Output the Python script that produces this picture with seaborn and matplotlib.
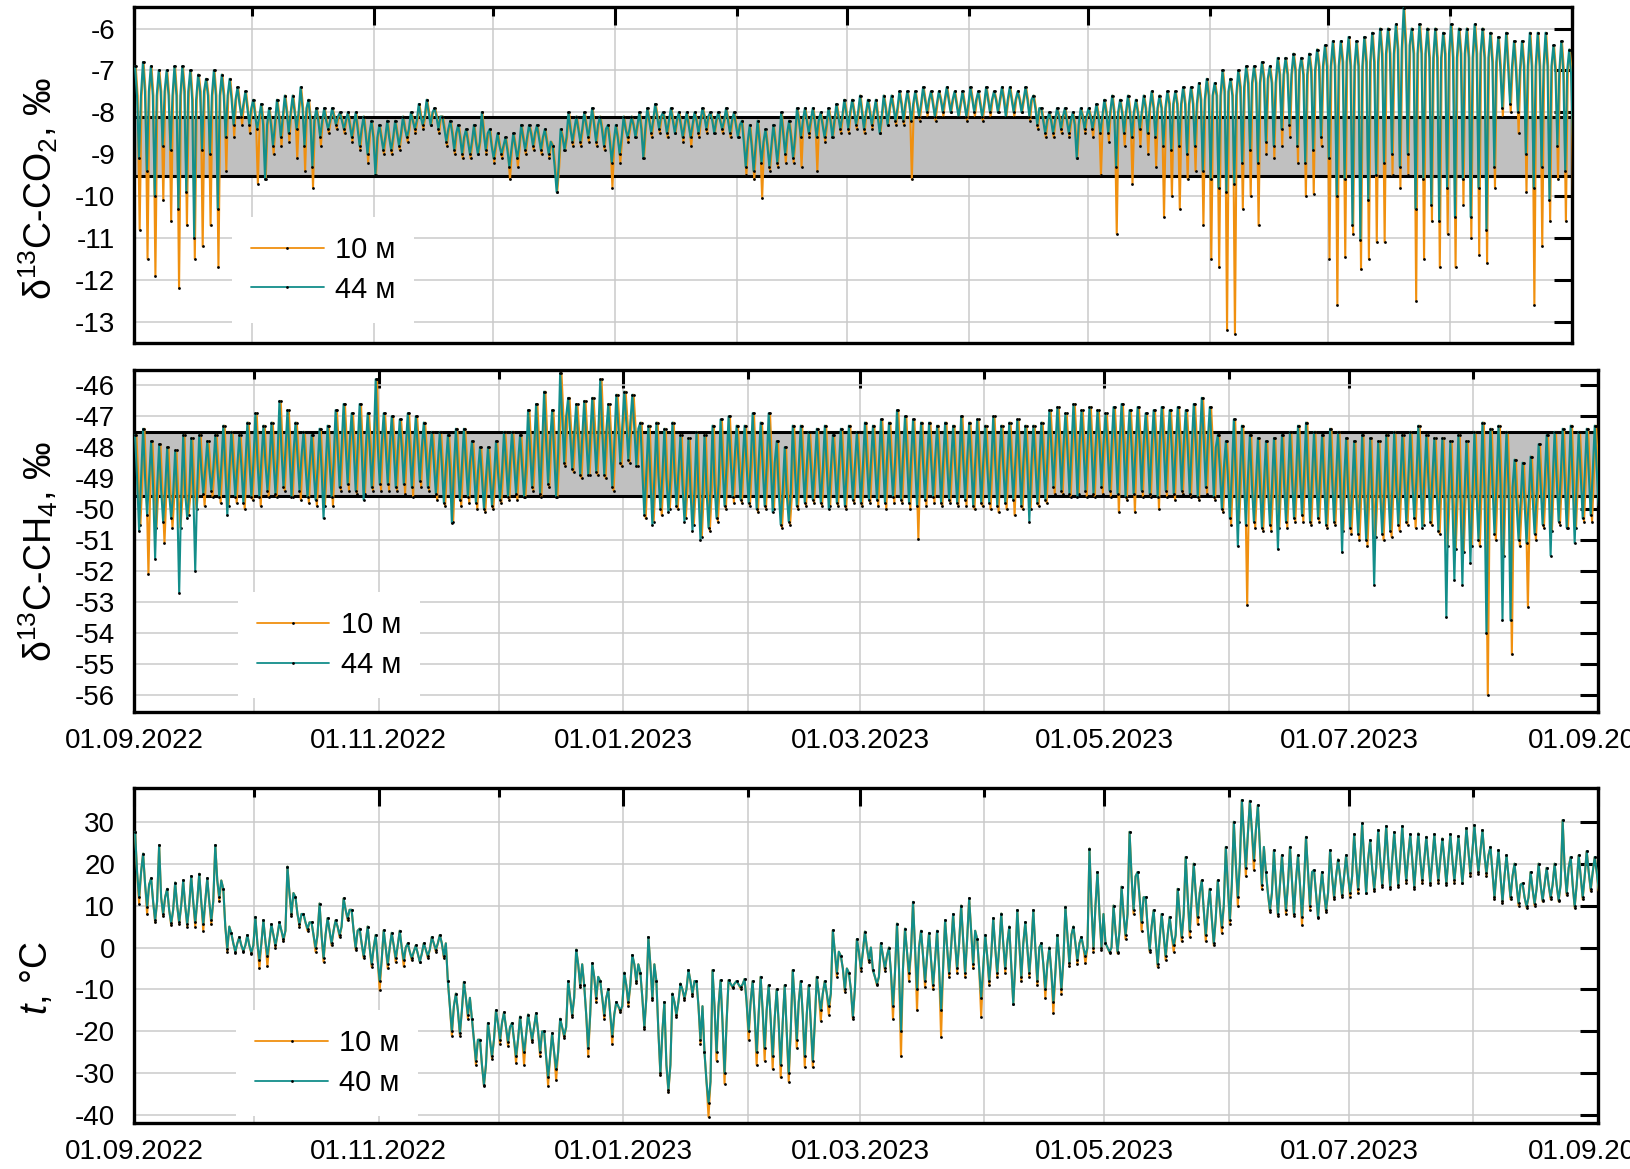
import numpy as np
import pandas as pd
import matplotlib
matplotlib.use("Agg")
import matplotlib.pyplot as plt
import matplotlib.dates as mdates
from matplotlib.ticker import MultipleLocator
import seaborn as sns

# ---------------------------------------------------------------------------
# Data: two-day blocks starting 01.09.2022; for each block the upper
# excursion, the typical (core) level and the lower excursion of the hourly
# record (‰ for the isotope ratios, °C for temperature).
# ---------------------------------------------------------------------------
START = "2022-09-01"
END = "2023-09-01"
BLOCK_DAYS = 2

# δ13C-CO2: 44 m upper / core / lower, 10 m lower
co2_44_hi = [
    -6.9, -6.8, -6.9, -7.0, -7.0, -6.9, -6.9, -7.0, -7.1, -7.2,
    -7.0, -7.1, -7.2, -7.4, -7.5, -7.7, -7.8, -7.9, -7.7, -7.6,
    -7.6, -7.4, -7.7, -7.9, -7.9, -7.9, -8.0, -8.0, -8.0, -8.1,
    -8.2, -8.3, -8.2, -8.2, -8.1, -8.0, -7.8, -7.7, -7.9, -8.1,
    -8.2, -8.3, -8.4, -8.3, -8.0, -8.4, -8.5, -8.6, -8.5, -8.3,
    -8.3, -8.3, -8.4, -8.8, -8.4, -8.0, -8.1, -8.0, -7.9, -8.1,
    -8.3, -8.3, -8.1, -8.1, -8.0, -7.9, -7.8, -8.0, -7.9, -8.0,
    -8.0, -8.0, -7.9, -8.0, -8.0, -7.9, -8.0, -8.2, -8.3, -8.2,
    -8.4, -8.3, -8.0, -8.2, -7.9, -7.9, -7.9, -8.0, -7.9, -7.8,
    -7.7, -7.7, -7.6, -7.7, -7.7, -7.6, -7.6, -7.5, -7.5, -7.5,
    -7.4, -7.5, -7.5, -7.4, -7.5, -7.5, -7.4, -7.5, -7.4, -7.5,
    -7.4, -7.4, -7.5, -7.4, -7.6, -7.9, -8.0, -7.9, -7.9, -8.0,
    -7.9, -7.9, -7.8, -7.7, -7.6, -7.7, -7.6, -7.7, -7.6, -7.5,
    -7.6, -7.5, -7.5, -7.4, -7.4, -7.3, -7.2, -7.3, -7.0, -7.2,
    -7.0, -6.9, -6.9, -6.8, -6.9, -6.7, -6.7, -6.6, -6.7, -6.6,
    -6.5, -6.4, -6.3, -6.3, -6.2, -6.3, -6.2, -6.1, -6.0, -6.0,
    -5.9, -5.5, -6.0, -5.9, -6.0, -6.0, -6.1, -5.9, -6.0, -6.0,
    -5.9, -6.0, -6.1, -6.2, -6.1, -6.3, -6.3, -6.1, -6.1, -6.1,
    -6.4, -6.3, -6.5,
]
co2_core = [
    -7.6, -7.5, -7.6, -7.5, -7.6, -7.6, -7.5, -7.7, -7.5, -7.6,
    -7.6, -7.6, -7.7, -7.8, -7.9, -8.1, -8.3, -8.3, -8.1, -8.0,
    -8.0, -7.9, -8.2, -8.2, -8.2, -8.1, -8.2, -8.3, -8.4, -8.5,
    -8.6, -8.6, -8.6, -8.5, -8.4, -8.2, -8.1, -8.0, -8.1, -8.4,
    -8.5, -8.6, -8.7, -8.7, -8.5, -8.8, -8.8, -8.9, -8.8, -8.6,
    -8.5, -8.6, -8.7, -9.3, -8.6, -8.4, -8.4, -8.3, -8.3, -8.4,
    -8.7, -8.6, -8.4, -8.3, -8.4, -8.2, -8.1, -8.2, -8.2, -8.3,
    -8.3, -8.2, -8.1, -8.2, -8.2, -8.2, -8.3, -8.7, -8.8, -8.7,
    -8.8, -8.7, -8.5, -8.6, -8.2, -8.2, -8.2, -8.3, -8.2, -8.1,
    -8.0, -8.0, -8.0, -8.0, -8.1, -7.9, -7.9, -7.8, -7.8, -7.8,
    -7.7, -7.8, -7.7, -7.7, -7.8, -7.8, -7.7, -7.8, -7.7, -7.7,
    -7.7, -7.7, -7.7, -7.7, -7.9, -8.2, -8.2, -8.1, -8.2, -8.3,
    -8.1, -8.1, -8.1, -8.0, -8.0, -8.0, -8.0, -8.0, -7.9, -7.9,
    -7.9, -7.8, -7.8, -7.8, -7.8, -7.7, -7.6, -7.6, -7.5, -7.6,
    -7.4, -7.3, -7.3, -7.2, -7.3, -7.1, -7.1, -7.0, -7.1, -7.0,
    -6.9, -6.9, -6.9, -6.8, -6.9, -6.9, -6.8, -6.8, -6.6, -6.6,
    -6.5, -6.4, -6.6, -6.6, -6.7, -6.7, -6.6, -6.7, -6.6, -6.7,
    -6.6, -6.7, -6.8, -6.9, -6.9, -7.0, -6.9, -6.9, -6.9, -6.9,
    -7.0, -7.0, -7.1,
]
co2_44_lo = [
    -9.1, -9.4, -10.0, -8.8, -8.9, -10.3, -9.9, -11.0, -8.9, -9.0,
    -10.3, -8.6, -8.3, -8.1, -8.3, -8.4, -9.6, -8.8, -8.6, -8.5,
    -8.4, -8.8, -9.3, -8.6, -8.4, -8.3, -8.4, -8.6, -8.8, -9.0,
    -9.5, -8.9, -8.9, -8.8, -8.6, -8.4, -8.3, -8.3, -8.4, -8.7,
    -8.9, -9.0, -9.0, -9.0, -8.9, -9.1, -9.0, -9.3, -9.1, -8.9,
    -8.8, -8.9, -9.0, -9.9, -8.9, -8.7, -8.7, -8.6, -8.7, -8.8,
    -9.2, -9.0, -8.6, -8.6, -9.1, -8.5, -8.4, -8.5, -8.5, -8.6,
    -8.6, -8.5, -8.4, -8.5, -8.4, -8.5, -8.6, -9.3, -9.4, -9.2,
    -9.3, -9.2, -9.0, -9.1, -8.6, -8.5, -8.6, -8.6, -8.6, -8.4,
    -8.4, -8.3, -8.4, -8.3, -8.5, -8.3, -8.2, -8.2, -8.2, -8.1,
    -8.0, -8.1, -8.0, -8.0, -8.1, -8.1, -8.0, -8.1, -8.0, -8.0,
    -8.1, -8.0, -8.0, -8.1, -8.3, -8.5, -8.5, -8.4, -8.5, -9.1,
    -8.4, -8.4, -8.5, -8.5, -9.3, -8.5, -8.6, -8.4, -8.5, -8.6,
    -8.8, -8.9, -8.8, -9.0, -8.8, -9.4, -9.6, -9.8, -9.9, -9.7,
    -9.2, -8.9, -9.2, -8.7, -8.8, -8.4, -8.3, -8.8, -9.2, -8.9,
    -8.6, -9.1, -10.0, -9.6, -10.7, -11.05, -10.1, -9.5, -9.2, -9.0,
    -9.3, -9.0, -10.3, -9.6, -10.2, -10.6, -9.8, -10.5, -9.6, -10.5,
    -9.8, -10.8, -9.3, -7.9, -7.8, -8.0, -9.0, -9.8, -9.3, -10.1,
    -8.8, -9.4, -8.8,
]
co2_10_lo = [
    -10.8, -11.5, -11.9, -10.1, -10.6, -12.2, -10.7, -11.5, -11.2, -10.7,
    -11.7, -9.4, -8.6, -8.3, -8.5, -9.7, -9.6, -9.0, -8.8, -8.7,
    -9.1, -9.4, -9.8, -8.8, -8.5, -8.4, -8.5, -8.7, -8.9, -9.2,
    -9.5, -9.0, -9.0, -8.9, -8.7, -8.5, -8.4, -8.3, -8.5, -8.8,
    -9.0, -9.1, -9.1, -9.0, -9.0, -9.2, -9.1, -9.6, -9.3, -9.0,
    -8.9, -9.0, -9.1, -9.9, -8.9, -8.8, -8.8, -8.7, -8.8, -8.9,
    -9.8, -9.2, -8.7, -8.6, -9.1, -8.6, -8.5, -8.6, -8.5, -8.7,
    -8.8, -8.6, -8.5, -8.5, -8.5, -8.6, -8.6, -9.5, -9.6, -10.05,
    -9.4, -9.3, -9.2, -9.2, -9.3, -8.6, -9.4, -8.7, -8.6, -8.5,
    -8.5, -8.4, -8.5, -8.4, -8.5, -8.3, -8.3, -8.3, -9.6, -8.2,
    -8.1, -8.2, -8.1, -8.0, -8.1, -8.2, -8.1, -8.2, -8.1, -8.0,
    -8.1, -8.1, -8.0, -8.2, -8.4, -8.6, -8.6, -8.5, -8.6, -9.1,
    -8.5, -8.6, -9.5, -8.7, -10.9, -8.8, -9.7, -8.8, -9.0, -9.3,
    -10.5, -10.0, -10.3, -9.6, -9.4, -10.7, -11.5, -11.7, -13.2, -13.3,
    -10.3, -10.0, -10.7, -9.0, -9.1, -8.8, -8.6, -9.2, -10.0, -9.95,
    -8.8, -11.5, -12.6, -11.45, -10.9, -11.75, -11.5, -11.1, -11.1, -9.5,
    -9.8, -9.5, -12.5, -11.5, -10.6, -11.7, -10.9, -11.7, -10.2, -11.0,
    -11.4, -11.6, -9.8, -8.1, -8.0, -8.5, -9.9, -12.6, -11.2, -10.6,
    -9.6, -10.6, -11.9,
]
co2_band = [-9.52, -8.12]

# δ13C-CH4: 44 m upper / core / lower, 10 m lower
ch4_44_hi = [
    -47.6, -47.4, -47.8, -47.9, -48.0, -48.1, -47.6, -47.7, -47.6, -47.8,
    -47.6, -47.3, -47.5, -47.6, -47.2, -46.9, -47.3, -47.2, -46.5, -46.8,
    -47.2, -47.5, -47.6, -47.4, -47.3, -46.8, -46.6, -46.9, -46.6, -46.9,
    -45.8, -46.9, -47.0, -47.1, -46.9, -47.0, -47.2, -47.5, -47.5, -47.6,
    -47.4, -47.4, -47.8, -48.0, -48.0, -47.8, -47.5, -47.5, -47.6, -46.8,
    -46.6, -46.2, -46.8, -45.6, -46.4, -46.6, -46.5, -46.4, -45.8, -46.6,
    -46.3, -46.2, -46.3, -47.2, -47.3, -47.2, -47.4, -47.2, -47.6, -47.7,
    -47.5, -47.6, -47.3, -47.1, -47.0, -47.3, -47.3, -46.9, -47.2, -46.9,
    -47.8, -48.0, -47.3, -47.3, -47.5, -47.4, -47.3, -47.6, -47.4, -47.3,
    -47.5, -47.2, -47.3, -47.1, -47.2, -46.8, -47.0, -47.1, -47.2, -47.2,
    -47.3, -47.2, -47.3, -47.0, -47.2, -47.1, -47.3, -47.0, -47.3, -47.2,
    -47.1, -47.3, -47.3, -47.2, -46.8, -46.7, -46.9, -46.6, -46.8, -46.7,
    -46.8, -46.9, -46.7, -46.6, -46.8, -46.7, -46.9, -46.8, -46.7, -46.8,
    -46.7, -46.8, -46.6, -46.4, -46.7, -47.6, -47.8, -47.1, -47.3, -47.6,
    -47.7, -47.8, -47.7, -47.6, -47.5, -47.3, -47.2, -47.5, -47.6, -47.4,
    -47.5, -47.7, -47.8, -47.6, -47.7, -47.8, -47.6, -47.5, -47.6, -47.5,
    -47.3, -47.6, -47.7, -47.7, -47.8, -47.6, -47.8, -47.5, -47.2, -47.4,
    -47.3, -47.5, -48.4, -48.5, -48.3, -47.9, -47.6, -47.5, -47.4, -47.3,
    -47.5, -47.4, -47.3,
]
ch4_core = [
    -49.0, -49.0, -49.3, -49.4, -49.5, -49.6, -49.5, -49.3, -48.7, -48.7,
    -48.6, -48.7, -48.6, -48.6, -48.5, -48.4, -48.5, -48.4, -48.1, -48.2,
    -48.3, -48.6, -48.7, -48.7, -48.5, -48.0, -47.9, -48.0, -48.1, -48.0,
    -47.9, -48.0, -48.1, -48.0, -48.1, -48.0, -48.2, -48.5, -48.6, -48.7,
    -48.6, -48.5, -48.8, -49.0, -49.0, -48.8, -48.5, -48.5, -48.6, -48.1,
    -48.0, -47.8, -48.2, -47.0, -47.6, -47.7, -47.7, -47.6, -47.5, -47.9,
    -47.3, -47.2, -47.4, -48.8, -49.0, -48.9, -49.0, -48.8, -49.2, -49.4,
    -49.5, -49.4, -49.2, -48.6, -48.4, -48.5, -48.6, -48.5, -48.6, -48.5,
    -49.4, -49.5, -48.6, -48.6, -48.6, -48.7, -48.7, -48.6, -48.7, -48.6,
    -48.6, -48.5, -48.5, -48.4, -48.5, -48.3, -48.4, -48.5, -48.5, -48.4,
    -48.5, -48.5, -48.6, -48.4, -48.5, -48.5, -48.6, -48.5, -48.6, -48.5,
    -48.5, -48.6, -48.5, -48.4, -48.0, -48.0, -48.1, -47.9, -48.0, -48.0,
    -47.9, -48.0, -47.9, -47.9, -48.0, -47.9, -48.0, -47.9, -47.9, -48.0,
    -47.9, -48.0, -47.9, -47.8, -48.0, -48.7, -48.9, -49.0, -49.0, -49.2,
    -49.2, -49.3, -49.2, -49.1, -49.0, -48.9, -49.0, -49.0, -49.1, -49.0,
    -49.1, -49.4, -49.5, -49.5, -49.6, -49.5, -49.4, -49.2, -49.0, -49.1,
    -49.0, -49.0, -49.2, -49.6, -49.7, -49.6, -49.5, -49.4, -49.3, -49.2,
    -49.2, -49.3, -49.8, -49.8, -49.6, -49.2, -49.1, -49.0, -49.0, -49.1,
    -48.9, -48.8, -48.7,
]
ch4_44_lo = [
    -50.7, -50.2, -51.6, -50.4, -50.3, -52.7, -50.3, -52.0, -49.5, -49.4,
    -49.6, -50.2, -49.6, -49.8, -49.6, -49.6, -49.4, -49.5, -49.3, -49.6,
    -49.4, -49.6, -49.7, -50.3, -49.6, -49.3, -49.2, -49.4, -49.7, -49.3,
    -49.2, -49.2, -49.3, -49.2, -49.3, -49.1, -49.3, -49.5, -49.8, -50.45,
    -49.7, -49.6, -49.8, -50.0, -49.9, -49.7, -49.6, -49.5, -49.6, -49.3,
    -49.5, -49.2, -49.6, -48.5, -48.7, -48.9, -48.9, -48.8, -48.9, -49.3,
    -48.5, -48.4, -48.6, -50.2, -50.5, -50.0, -50.1, -49.9, -50.4, -50.7,
    -51.0, -50.6, -50.3, -49.9, -49.6, -49.7, -49.8, -50.0, -49.9, -50.1,
    -50.5, -50.4, -49.9, -49.8, -49.7, -49.8, -50.0, -49.8, -49.9, -49.7,
    -49.8, -49.7, -49.7, -49.8, -49.6, -49.7, -49.8, -49.9, -49.7, -49.6,
    -49.8, -49.7, -49.8, -49.7, -49.9, -49.8, -49.8, -49.9, -49.8, -49.7,
    -49.9, -50.4, -49.8, -49.7, -49.3, -49.4, -49.5, -49.6, -49.4, -49.5,
    -49.3, -49.4, -49.5, -49.6, -49.5, -49.4, -49.5, -49.6, -49.4, -49.5,
    -49.4, -49.5, -49.6, -49.3, -49.6, -50.0, -50.3, -51.2, -50.5, -50.4,
    -50.6, -50.5, -51.3, -50.4, -50.3, -50.2, -50.4, -50.3, -50.5, -50.4,
    -51.4, -50.6, -50.8, -51.0, -52.45, -50.8, -50.7, -50.5, -50.4, -50.3,
    -50.6, -50.4, -50.7, -53.5, -52.3, -52.45, -51.75, -51.0, -54.0, -50.8,
    -53.6, -53.6, -51.0, -51.1, -50.8, -50.5, -51.5, -50.4, -50.6, -51.1,
    -50.3, -50.2, -49.9,
]
ch4_10_lo = [
    -50.5, -52.1, -50.6, -51.1, -50.6, -50.6, -50.2, -50.0, -49.9, -49.6,
    -49.8, -49.9, -49.8, -50.0, -49.7, -49.9, -49.6, -49.6, -49.4, -49.6,
    -49.7, -49.8, -49.9, -49.9, -49.9, -49.4, -49.4, -49.5, -49.5, -49.4,
    -49.4, -49.4, -49.4, -49.5, -49.6, -49.3, -49.4, -49.7, -49.9, -50.4,
    -49.9, -49.8, -50.0, -50.1, -50.0, -49.8, -49.7, -49.7, -49.6, -49.4,
    -49.6, -49.3, -49.6, -48.6, -48.8, -49.0, -48.9, -48.9, -49.0, -49.4,
    -48.6, -48.5, -48.6, -50.3, -50.4, -50.2, -50.0, -50.0, -50.3, -50.5,
    -50.9, -50.7, -50.4, -50.0, -49.8, -49.8, -49.9, -50.1, -50.0, -50.0,
    -50.6, -50.5, -50.0, -49.9, -49.8, -49.9, -49.9, -49.9, -50.0, -49.8,
    -49.9, -49.8, -49.9, -50.0, -49.8, -49.8, -50.0, -50.95, -49.9, -49.8,
    -49.9, -49.8, -49.9, -49.9, -50.0, -49.9, -50.0, -50.1, -50.0, -50.2,
    -50.0, -50.0, -49.9, -49.8, -49.5, -49.5, -49.6, -49.5, -49.6, -49.6,
    -49.5, -49.6, -50.1, -49.7, -50.1, -49.6, -49.6, -50.0, -49.6, -49.7,
    -49.5, -49.6, -49.7, -49.5, -49.7, -50.1, -50.5, -50.4, -53.1, -50.6,
    -50.7, -50.7, -50.6, -50.6, -50.4, -50.4, -50.5, -50.4, -50.6, -50.5,
    -50.7, -50.8, -51.0, -51.2, -50.9, -51.0, -50.9, -50.7, -50.5, -50.6,
    -50.5, -50.5, -50.8, -51.2, -51.3, -51.4, -51.2, -51.2, -56.0, -51.0,
    -51.5, -54.7, -51.2, -53.15, -51.0, -50.6, -50.7, -50.5, -50.6, -50.6,
    -50.4, -50.4, -50.1,
]
ch4_band = [-49.58, -47.5]

# Air temperature: 40 m upper / typical / lower, 10 m lower
t_40_hi = [
    27.6, 22.4, 16.5, 24.4, 14.0, 15.5, 16.0, 17.0, 17.6, 16.5,
    24.4, 14.0, 3.4, 2.5, 3.0, 7.3, 6.5, 5.5, 6.0, 19.3,
    12.0, 8.0, 6.0, 10.5, 7.0, 6.5, 11.7, 9.0, 4.5, 5.0,
    3.0, 4.1, 3.5, 4.0, 1.0, 0.5, 1.0, 2.5, 3.0, -8.0,
    -11.0, -8.2, -17.0, -22.0, -18.0, -15.0, -15.5, -18.0, -16.5, -16.0,
    -15.7, -20.0, -20.5, -17.0, -8.0, -0.5, -9.0, -3.8, -8.0, -10.0,
    -13.0, -6.0, -1.8, -6.0, 2.5, -8.0, -13.0, -11.0, -8.6, -5.4,
    -8.0, -25.0, -5.4, -7.8, -7.8, -8.0, -7.5, -8.0, -7.0, -9.0,
    -10.0, -9.0, -5.4, -8.0, -9.0, -7.0, -8.0, 4.1, -2.0, -6.0,
    2.0, 3.8, -5.4, 1.0, 0.0, 5.7, 4.5, 10.9, 4.0, 3.5,
    4.0, 6.5, 8.0, 10.0, 11.7, 2.0, 3.0, 7.0, 8.1, 5.0,
    8.9, 6.0, 8.9, 1.0, 0.0, 3.0, 9.7, 5.0, 2.5, 23.6,
    18.0, 1.0, 10.0, 14.5, 27.6, 18.0, 12.0, 8.9, 8.0, 7.3,
    14.0, 21.6, 20.0, 16.0, 14.0, 16.0, 24.0, 30.0, 35.2, 35.0,
    34.0, 18.0, 23.2, 22.0, 24.0, 22.0, 26.4, 18.5, 18.0, 23.2,
    21.0, 22.0, 27.0, 29.6, 25.6, 28.0, 29.0, 27.5, 29.0, 27.0,
    27.2, 26.4, 27.0, 26.0, 27.0, 26.5, 28.5, 29.2, 28.0, 24.0,
    23.2, 22.0, 20.0, 15.3, 18.0, 20.0, 19.0, 20.0, 30.4, 21.6,
    22.0, 23.0, 21.6,
]
t_core = [
    18, 15, 11, 12, 9, 10, 10, 11, 11, 11,
    16, 5, 1, 0.5, 0.5, 1, 1.5, 3, 4, 13,
    8, 6, 3, 3, 4, 5, 9, 4, 1, 0,
    -3, 0, 0.5, 0, -1, -1.5, -0.5, 1, 1, -14,
    -15, -12, -22, -28, -22, -18, -19, -22, -21, -19,
    -20, -26, -25, -19, -12, -4, -16, -7, -12, -16,
    -14, -9, -4, -12, -4, -20, -28, -13, -10, -8,
    -14, -32, -14, -18, -8.6, -8.8, -13, -16, -15, -17,
    -18, -20, -13, -16, -18, -11, -11, -1, -5, -10,
    -1, 0, -7, -2, -6, -5, -1, 0, -2, -3,
    -5, 0, 1, 2, 4, -5, -2, 0, 1, -4,
    1, 0, 0, -4, -6, -3, 3, 1, 0, 10,
    8, 0, 4, 8, 17, 12, 5, 2, 3, 3,
    8, 12, 13, 9, 7, 10, 15, 20, 27, 28,
    24, 13, 15, 15, 16, 15, 18, 13, 13, 17,
    17, 17, 20, 21, 19, 21, 21, 21, 22, 21,
    21, 21, 21, 21, 21, 21, 23, 23, 22, 18,
    17, 17, 15, 12, 14, 15, 15, 15, 19, 15,
    17, 18, 18,
]
t_40_lo = [
    12.0, 9.7, 6.5, 8.0, 5.8, 6.0, 5.5, 6.0, 5.5, 6.5,
    12.0, -0.3, -1.0, -0.8, -1.2, -3.0, -2.0, 0.5, 2.0, 8.0,
    5.5, 4.5, 0.0, -2.5, 1.0, 3.0, 7.0, 0.0, -2.0, -4.0,
    -8.0, -4.0, -2.5, -3.0, -2.5, -3.4, -2.0, -0.5, -2.0, -20.0,
    -20.5, -16.0, -27.0, -32.8, -26.0, -22.0, -22.5, -26.0, -25.0, -22.0,
    -25.0, -31.0, -29.0, -21.0, -16.0, -9.0, -24.0, -12.0, -16.0, -21.0,
    -15.0, -13.0, -8.0, -19.0, -12.0, -30.0, -34.0, -16.0, -12.0, -11.0,
    -22.0, -37.0, -25.0, -30.0, -9.4, -9.5, -20.0, -25.0, -24.0, -26.0,
    -28.0, -30.0, -22.0, -26.0, -27.0, -15.0, -14.0, -6.0, -10.0, -16.5,
    -5.0, -3.0, -8.6, -5.0, -14.0, -20.0, -6.0, -10.0, -8.0, -9.0,
    -15.0, -6.0, -5.0, -6.0, -4.0, -12.0, -8.0, -6.0, -5.0, -13.4,
    -7.0, -6.0, -8.0, -10.0, -13.0, -10.0, -3.8, -3.0, -2.0, 0.0,
    0.0, -1.0, -1.0, 3.0, 9.0, 6.0, -0.6, -4.0, -2.0, 0.5,
    2.5, 4.0, 7.3, 3.0, 1.0, 5.0, 6.5, 12.0, 19.0, 21.0,
    15.0, 9.0, 8.0, 9.0, 8.0, 7.3, 10.0, 7.3, 9.0, 12.1,
    12.5, 13.0, 14.0, 13.0, 14.0, 15.0, 14.5, 15.0, 16.0, 14.5,
    16.0, 15.5, 16.1, 15.3, 16.0, 15.5, 17.7, 18.0, 17.7, 12.0,
    11.0, 12.0, 10.6, 9.8, 10.5, 11.3, 12.0, 11.3, 13.0, 9.8,
    12.0, 14.0, 14.0,
]
t_10_lo = [
    10.5, 8.0, 6.0, 7.5, 5.3, 5.5, 5.0, 5.0, 4.0, 5.5,
    11.0, -1.0, -1.2, -1.0, -1.5, -5.0, -4.5, 0.0, 1.5, 7.5,
    5.0, 4.0, -1.0, -3.4, 0.5, 2.5, 6.5, -0.5, -2.5, -4.6,
    -10.2, -5.0, -3.5, -4.5, -3.0, -3.4, -2.5, -1.0, -2.5, -21.0,
    -21.0, -17.0, -28.0, -33.0, -26.5, -23.0, -23.5, -27.5, -28.0, -22.5,
    -26.0, -33.0, -31.7, -21.5, -16.5, -9.5, -26.0, -13.0, -17.0, -23.0,
    -15.5, -14.0, -8.5, -19.5, -12.5, -30.5, -34.5, -16.5, -12.5, -11.5,
    -23.0, -40.4, -27.0, -32.5, -9.6, -9.8, -22.0, -28.0, -27.0, -29.0,
    -31.0, -32.0, -24.0, -28.5, -28.5, -17.5, -16.0, -7.0, -10.5, -17.0,
    -5.5, -3.5, -9.0, -5.5, -17.0, -26.0, -8.0, -15.0, -9.5, -10.0,
    -21.3, -7.0, -6.0, -7.0, -5.0, -16.5, -9.0, -7.0, -6.0, -13.4,
    -8.0, -7.0, -9.0, -12.0, -15.7, -11.0, -4.5, -4.0, -3.8, -1.0,
    -0.5, -1.2, -1.4, 2.0, 8.0, 4.0, -1.0, -4.6, -3.0, -1.0,
    1.5, 2.5, 5.5, 1.5, 0.5, 3.5, 5.5, 10.0, 17.0, 18.5,
    14.0, 8.5, 7.5, 8.0, 7.5, 5.3, 9.0, 7.0, 8.5, 11.5,
    12.0, 12.0, 13.0, 12.9, 13.5, 14.5, 14.0, 14.5, 15.5, 14.0,
    15.3, 15.0, 15.5, 15.0, 15.5, 15.3, 17.0, 17.5, 17.0, 11.5,
    10.6, 11.5, 10.0, 9.5, 10.0, 11.0, 11.5, 11.0, 12.5, 9.5,
    11.5, 13.5, 13.5,
]

legend_labels = [("10 м", "44 м"), ("10 м", "44 м"), ("10 м", "40 м")]

ORANGE = "#F0900F"
TEAL = "#138E8A"
GRID = "#cacaca"
STEP_HOURS = [6, 18, 30, 42]  # upper, core, lower, core within a block


def block_series(hi, core, lo, shift_h=0.0):
    """Trace through each two-day block: upper value, core level, lower
    value, core level again, at 12-hour steps (optionally offset by a few
    hours so the two heights do not sit exactly on top of each other)."""
    n = len(hi)
    base = pd.Timestamp(START) + pd.to_timedelta(np.arange(n) * BLOCK_DAYS, unit="D")
    values = [hi, core, lo, core]
    t = np.concatenate([base + pd.Timedelta(hours=h + shift_h) for h in STEP_HOURS])
    v = np.concatenate([np.asarray(a, float) for a in values])
    df = pd.DataFrame({"time": t, "value": v})
    return df.sort_values("time", kind="stable").reset_index(drop=True)


def extreme_marks(df):
    """Indices of the upper/lower vertices (dots are drawn there only)."""
    idx = np.arange(len(df))
    return list(idx[idx % 4 % 2 == 0])


sns.set_theme(style="white")
plt.rcParams["font.family"] = ["Liberation Sans", "DejaVu Sans"]
plt.rcParams["mathtext.fontset"] = "custom"
plt.rcParams["mathtext.rm"] = "Liberation Sans"
plt.rcParams["mathtext.it"] = "Liberation Sans:italic"
plt.rcParams["axes.unicode_minus"] = False
for key in ("text.color", "axes.labelcolor", "xtick.color", "ytick.color", "axes.edgecolor"):
    plt.rcParams[key] = "black"

fig = plt.figure(figsize=(16.31, 11.69), dpi=100)
ax_co2 = fig.add_axes([0.0822, 0.7068, 0.8817, 0.2874])
ax_ch4 = fig.add_axes([0.0822, 0.3912, 0.8974, 0.2923])
ax_t = fig.add_axes([0.0822, 0.0396, 0.8974, 0.2861])

panels = [
    (ax_co2, block_series(co2_44_hi, co2_core, co2_10_lo, 4),
     block_series(co2_44_hi, co2_core, co2_44_lo), co2_band),
    (ax_ch4, block_series(ch4_44_hi, ch4_core, ch4_10_lo, 8),
     block_series(ch4_44_hi, ch4_core, ch4_44_lo), ch4_band),
    (ax_t, block_series(t_40_hi, t_core, t_10_lo),
     block_series(t_40_hi, t_core, t_40_lo), None),
]

line_kw = dict(lw=1.5, marker="o", markersize=2.0, markerfacecolor="black",
               markeredgecolor="black", markeredgewidth=0, estimator=None, sort=False)

for (ax, d10, dhi, band), (lab10, labhi) in zip(panels, legend_labels):
    if band is not None:
        ax.axhspan(band[0], band[1], facecolor="#c0c0c0", edgecolor="none", zorder=1)
        for yb in band:
            ax.axhline(yb, color="black", lw=2.2, zorder=1.5)
    sns.lineplot(data=d10, x="time", y="value", ax=ax, color=ORANGE, label=lab10, zorder=3,
                 markevery=extreme_marks(d10), **line_kw)
    sns.lineplot(data=dhi, x="time", y="value", ax=ax, color=TEAL, label=labhi, zorder=4,
                 markevery=extreme_marks(dhi), **line_kw)

    ax.set_xlim(pd.Timestamp(START), pd.Timestamp(END))
    ax.xaxis.set_major_locator(mdates.MonthLocator(bymonth=[1, 3, 5, 7, 9, 11]))
    ax.xaxis.set_minor_locator(mdates.MonthLocator(bymonth=[2, 4, 6, 8, 10, 12]))
    ax.xaxis.set_major_formatter(mdates.DateFormatter("%d.%m.%Y"))
    ax.tick_params(which="both", direction="in", top=True, right=True, width=2.2, color="black")
    ax.tick_params(which="major", length=13)
    ax.tick_params(which="minor", length=6.5)
    ax.tick_params(axis="x", which="major", pad=12, labelsize=20)
    ax.tick_params(axis="y", which="major", pad=13.5, labelsize=20)
    ax.grid(True, which="both", axis="x", color=GRID, lw=1.1)
    ax.grid(True, which="major", axis="y", color=GRID, lw=1.1)
    ax.set_axisbelow(True)
    for sp in ax.spines.values():
        sp.set_visible(True)
        sp.set_linewidth(2.4)
        sp.set_color("black")
    ax.set_xlabel("")

# Axis ranges and labels
ax_co2.set_ylim(-13.5, -5.48)
ax_co2.yaxis.set_major_locator(MultipleLocator(1))
ax_co2.tick_params(axis="x", labelbottom=False)
ax_co2.set_ylabel("δ$^{13}$C-CO$_2$, ‰", fontsize=27)
ax_co2.yaxis.set_label_coords(-0.0515, 0.459)

ax_ch4.set_ylim(-56.55, -45.5)
ax_ch4.yaxis.set_major_locator(MultipleLocator(1))
ax_ch4.set_ylabel("δ$^{13}$C-CH$_4$, ‰", fontsize=27)
ax_ch4.yaxis.set_label_coords(-0.0506, 0.468)

ax_t.set_ylim(-41.8, 38.0)
ax_t.yaxis.set_major_locator(MultipleLocator(10))
ax_t.set_ylabel("$t$, °C", fontsize=27)
ax_t.yaxis.set_label_coords(-0.054, 0.433)

legend_pos = {ax_co2: (0.068, 0.375), ax_ch4: (0.0707, 0.35), ax_t: (0.0697, 0.337)}
for ax, pos in legend_pos.items():
    leg = ax.legend(loc="upper left", bbox_to_anchor=pos, bbox_transform=ax.transAxes,
                    borderaxespad=0, frameon=True, facecolor="white", edgecolor="none",
                    framealpha=1, fancybox=False, fontsize=21, handlelength=2.5,
                    handletextpad=0.38, borderpad=0.65, labelspacing=0.41)
    leg.get_frame().set_linewidth(0)
    for line in leg.get_lines():
        line.set_linewidth(1.3)

fig.savefig("out.png", dpi=100)
